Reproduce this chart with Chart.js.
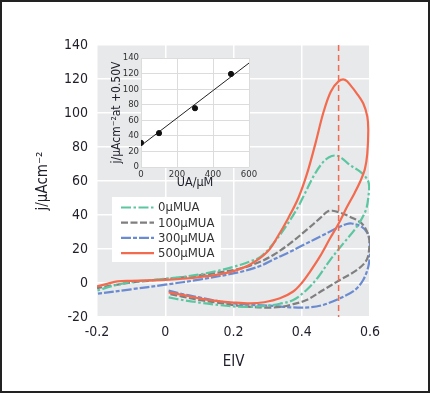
<!DOCTYPE html>
<html>
<head>
<meta charset="utf-8">
<script src="https://cdn.jsdelivr.net/npm/chart.js@4.4.1/dist/chart.umd.min.js"></script>
<style>
  body { margin: 0; background: #fff; }
  #wrap { position: relative; width: 431px; height: 394px; }
  #main { position: absolute; left: 0; top: 0; }
  #inset { position: absolute; left: 100px; top: 50px; }
</style>
</head>
<body>
<div id="wrap">
  <canvas id="main" width="431" height="394"></canvas>
  <canvas id="inset" width="160" height="145"></canvas>
</div>
<script>
// CV curves, E/V vs j (bottom branch -> right side -> top branch back to -0.2)
const e0 = [0.01, 0.05, 0.1, 0.15, 0.2, 0.25, 0.3, 0.336, 0.375, 0.414, 0.449, 0.483, 0.522, 0.561, 0.588, 0.596, 0.597, 0.59, 0.571, 0.541, 0.517, 0.5, 0.48, 0.46, 0.435, 0.41, 0.39, 0.356, 0.317, 0.28, 0.25, 0.2, 0.15, 0.1, 0.05, 0, -0.05, -0.1, -0.15, -0.2];
const j0 = [-8.5, -10, -11.5, -12.8, -13.8, -14, -13.3, -12.2, -10, -4.1, 3.7, 13.5, 23.3, 33, 43, 52, 58, 61.6, 65.5, 69.4, 73.5, 75, 74, 70.5, 63, 53, 45, 34, 23.3, 15.5, 12.8, 9.5, 7, 5, 3.5, 2.5, 1.5, 0.5, -1.5, -4.5];

const e100 = [0.015, 0.05, 0.1, 0.15, 0.2, 0.25, 0.3, 0.34, 0.366, 0.414, 0.463, 0.512, 0.561, 0.59, 0.598, 0.595, 0.576, 0.541, 0.512, 0.49, 0.475, 0.453, 0.414, 0.366, 0.317, 0.278, 0.22, 0.15, 0.1, 0.05, 0, -0.05, -0.1, -0.15, -0.2];
const j100 = [-6.5, -8, -10, -11.5, -13, -14, -14.5, -14, -12.9, -10, -4.1, 1.8, 7.6, 13.5, 21.4, 28.2, 35, 39, 41.4, 42.5, 42, 38, 31.2, 23.3, 16.5, 12.5, 8.5, 6, 4.5, 3.3, 2.3, 1.3, 0.3, -1.3, -3];

const e300 = [0.01, 0.05, 0.1, 0.15, 0.2, 0.25, 0.317, 0.366, 0.424, 0.463, 0.512, 0.556, 0.58, 0.595, 0.6, 0.6, 0.593, 0.576, 0.546, 0.532, 0.502, 0.463, 0.414, 0.366, 0.317, 0.278, 0.22, 0.1, 0, -0.1, -0.2];
const j300 = [-4.5, -6.5, -8.5, -10.5, -12, -12.8, -13.5, -14.3, -14.3, -12.9, -9, -4.1, 1.8, 9.6, 17.5, 23.3, 29.2, 33, 35, 34.7, 32.2, 28.2, 23.3, 18.4, 13.8, 10, 6.5, 2, -1, -3.7, -6.3];

const e500 = [0.01, 0.05, 0.1, 0.15, 0.2, 0.25, 0.29, 0.336, 0.375, 0.4, 0.424, 0.453, 0.483, 0.507, 0.532, 0.555, 0.572, 0.585, 0.592, 0.595, 0.592, 0.58, 0.561, 0.546, 0.527, 0.507, 0.485, 0.463, 0.44, 0.415, 0.39, 0.36, 0.33, 0.3, 0.25, 0.2, 0.15, 0.1, 0.05, 0, -0.05, -0.1, -0.14, -0.17, -0.2];
const j500 = [-5.5, -7, -9, -10.5, -11.5, -12, -11.3, -9, -5, 0, 6.6, 15.5, 26.3, 34.5, 44.5, 53, 60, 67, 76, 90, 98, 105.7, 111.6, 115.5, 119.5, 118.5, 112.5, 100, 82, 64, 50, 38, 27.5, 18.5, 11, 7, 4.8, 3.5, 2.5, 1.8, 1.5, 1.3, 1, -0.5, -2];

const markE = [0.508, 0.508];
const markJ = [140, -20];

const xTicks = [-0.2, 0, 0.2, 0.4, 0.6];
const yTicks = [-20, 0, 20, 40, 60, 80, 100, 120, 140];

// inset: j at +0.50V vs UA concentration
const uaConc = [0, 100, 300, 500];
const jAt050 = [31, 43.5, 75.5, 119.5];
const fitConc = [0, 600];
const fitJ = [27.5, 133.5];
const insetXTicks = [0, 200, 400, 600];
const insetYTicks = [0, 20, 40, 60, 80, 100, 120, 140];

const FONT = "'Liberation Sans Narrow', 'DejaVu Sans Condensed', Lato, sans-serif";

function pts(xs, ys) {
  return xs.map(function(x, i){ return {x: x, y: ys[i]}; });
}

const plotBg = {
  id: 'plotBg',
  beforeDraw: function(chart, args, opts) {
    const a = chart.chartArea, ctx = chart.ctx;
    ctx.save();
    ctx.fillStyle = opts.color;
    ctx.fillRect(a.left, a.top, a.right - a.left, a.bottom - a.top);
    ctx.restore();
  }
};

const cvLegend = {
  id: 'cvLegend',
  afterDatasetsDraw: function(chart) {
    const ctx = chart.ctx;
    const sets = chart.data.datasets.filter(function(d){ return d.label; });
    ctx.save();
    ctx.fillStyle = '#fff';
    ctx.fillRect(112, 197, 109, 65);
    ctx.font = '13px ' + FONT;
    ctx.textBaseline = 'middle';
    sets.forEach(function(d, i) {
      const y = 207.5 + i * 15.2;
      ctx.strokeStyle = d.borderColor;
      ctx.lineWidth = 2.2;
      ctx.setLineDash(d.borderDash || []);
      ctx.beginPath();
      ctx.moveTo(121, y);
      ctx.lineTo(154, y);
      ctx.stroke();
      ctx.setLineDash([]);
      ctx.fillStyle = '#333';
      ctx.fillText(d.label, 158, y + 0.5);
    });
    ctx.restore();
  }
};

const frame = {
  id: 'frame',
  afterDraw: function(chart) {
    const ctx = chart.ctx;
    ctx.save();
    ctx.strokeStyle = '#222';
    ctx.lineWidth = 2;
    ctx.strokeRect(1, 1, 428, 391);
    ctx.restore();
  }
};

function cvSet(label, xs, ys, color, dash, order) {
  return {
    label: label,
    data: pts(xs, ys),
    showLine: true,
    borderColor: color,
    borderWidth: 2.2,
    borderDash: dash,
    tension: 0.35,
    pointRadius: 0,
    fill: false,
    order: order
  };
}

new Chart(document.getElementById('main'), {
  type: 'scatter',
  data: {
    datasets: [
      cvSet('0\u03bcMUA', e0, j0, '#5cc6a0', [10, 2.5, 2.5, 2.5], 2),
      cvSet('100\u03bcMUA', e100, j100, '#7f7f7f', [7, 2.5], 3),
      cvSet('300\u03bcMUA', e300, j300, '#6a8bd0', [10, 2, 4, 2], 4),
      cvSet('500\u03bcMUA', e500, j500, '#f26b4f', [], 1),
      {
        label: '',
        data: pts(markE, markJ),
        showLine: true,
        borderColor: '#f26b4f',
        borderWidth: 1.5,
        borderDash: [6, 4],
        pointRadius: 0,
        order: 0
      }
    ]
  },
  options: {
    responsive: false,
    animation: false,
    devicePixelRatio: 1,
    layout: { padding: { top: 45, right: 61, left: 0, bottom: 0 } },
    plugins: {
      legend: { display: false },
      tooltip: { enabled: false },
      plotBg: { color: '#e8e9eb' }
    },
    scales: {
      x: {
        type: 'linear',
        min: xTicks[0],
        max: xTicks[xTicks.length - 1],
        afterBuildTicks: function(s){ s.ticks = xTicks.map(function(v){ return {value: v}; }); },
        afterFit: function(s){ s.height = 77; },
        border: { display: false },
        grid: { color: '#fff', lineWidth: 1.5, drawTicks: false },
        ticks: {
          padding: 7,
          color: '#1f1f2b',
          font: { family: FONT, size: 14 },
          callback: function(v){ return String(Number(v.toFixed(1))); }
        },
        title: {
          display: true,
          text: 'EIV',
          color: '#1f1f2b',
          font: { family: FONT, size: 15 },
          padding: { bottom: 23 }
        }
      },
      y: {
        min: yTicks[0],
        max: yTicks[yTicks.length - 1],
        afterBuildTicks: function(s){ s.ticks = yTicks.map(function(v){ return {value: v}; }); },
        afterFit: function(s){ s.width = 97; },
        border: { display: false },
        grid: { color: '#fff', lineWidth: 1.5, drawTicks: false },
        ticks: {
          padding: 9,
          color: '#1f1f2b',
          font: { family: FONT, size: 14 }
        },
        title: {
          display: true,
          text: 'j/\u03bcAcm\u207b\u00b2',
          color: '#1f1f2b',
          font: { family: FONT, size: 15 },
          padding: { top: 34 }
        }
      }
    }
  },
  plugins: [plotBg, cvLegend, frame]
});

new Chart(document.getElementById('inset'), {
  type: 'scatter',
  data: {
    datasets: [
      {
        data: pts(uaConc, jAt050),
        backgroundColor: '#111',
        borderColor: '#111',
        pointRadius: 2.6
      },
      {
        data: pts(fitConc, fitJ),
        showLine: true,
        borderColor: '#222',
        borderWidth: 1,
        pointRadius: 0
      }
    ]
  },
  options: {
    responsive: false,
    animation: false,
    devicePixelRatio: 1,
    layout: { padding: { top: 8, right: 11, left: 0, bottom: 0 } },
    plugins: {
      legend: { display: false },
      tooltip: { enabled: false },
      plotBg: { color: '#fff' }
    },
    scales: {
      x: {
        type: 'linear',
        min: insetXTicks[0],
        max: insetXTicks[insetXTicks.length - 1],
        afterBuildTicks: function(s){ s.ticks = insetXTicks.map(function(v){ return {value: v}; }); },
        afterFit: function(s){ s.height = 28; },
        border: { display: false },
        grid: { color: '#dcdcdc', lineWidth: 1, drawTicks: false },
        ticks: { padding: 2, color: '#333', font: { family: FONT, size: 9.5 } },
        title: {
          display: true,
          text: 'UA/\u03bcM',
          color: '#1f1f2b',
          font: { family: FONT, size: 12.5 },
          padding: { bottom: 5 }
        }
      },
      y: {
        min: insetYTicks[0],
        max: insetYTicks[insetYTicks.length - 1],
        afterBuildTicks: function(s){ s.ticks = insetYTicks.map(function(v){ return {value: v}; }); },
        afterFit: function(s){ s.width = 41; },
        border: { display: false },
        grid: { color: '#dcdcdc', lineWidth: 1, drawTicks: false },
        ticks: { padding: 2, color: '#333', font: { family: FONT, size: 9.5 } },
        title: {
          display: true,
          text: 'j/\u03bcAcm\u207b\u00b2at +0.50V',
          color: '#1f1f2b',
          font: { family: FONT, size: 12 },
          padding: { top: 10 }
        }
      }
    }
  },
  plugins: [plotBg]
});
</script>
</body>
</html>
